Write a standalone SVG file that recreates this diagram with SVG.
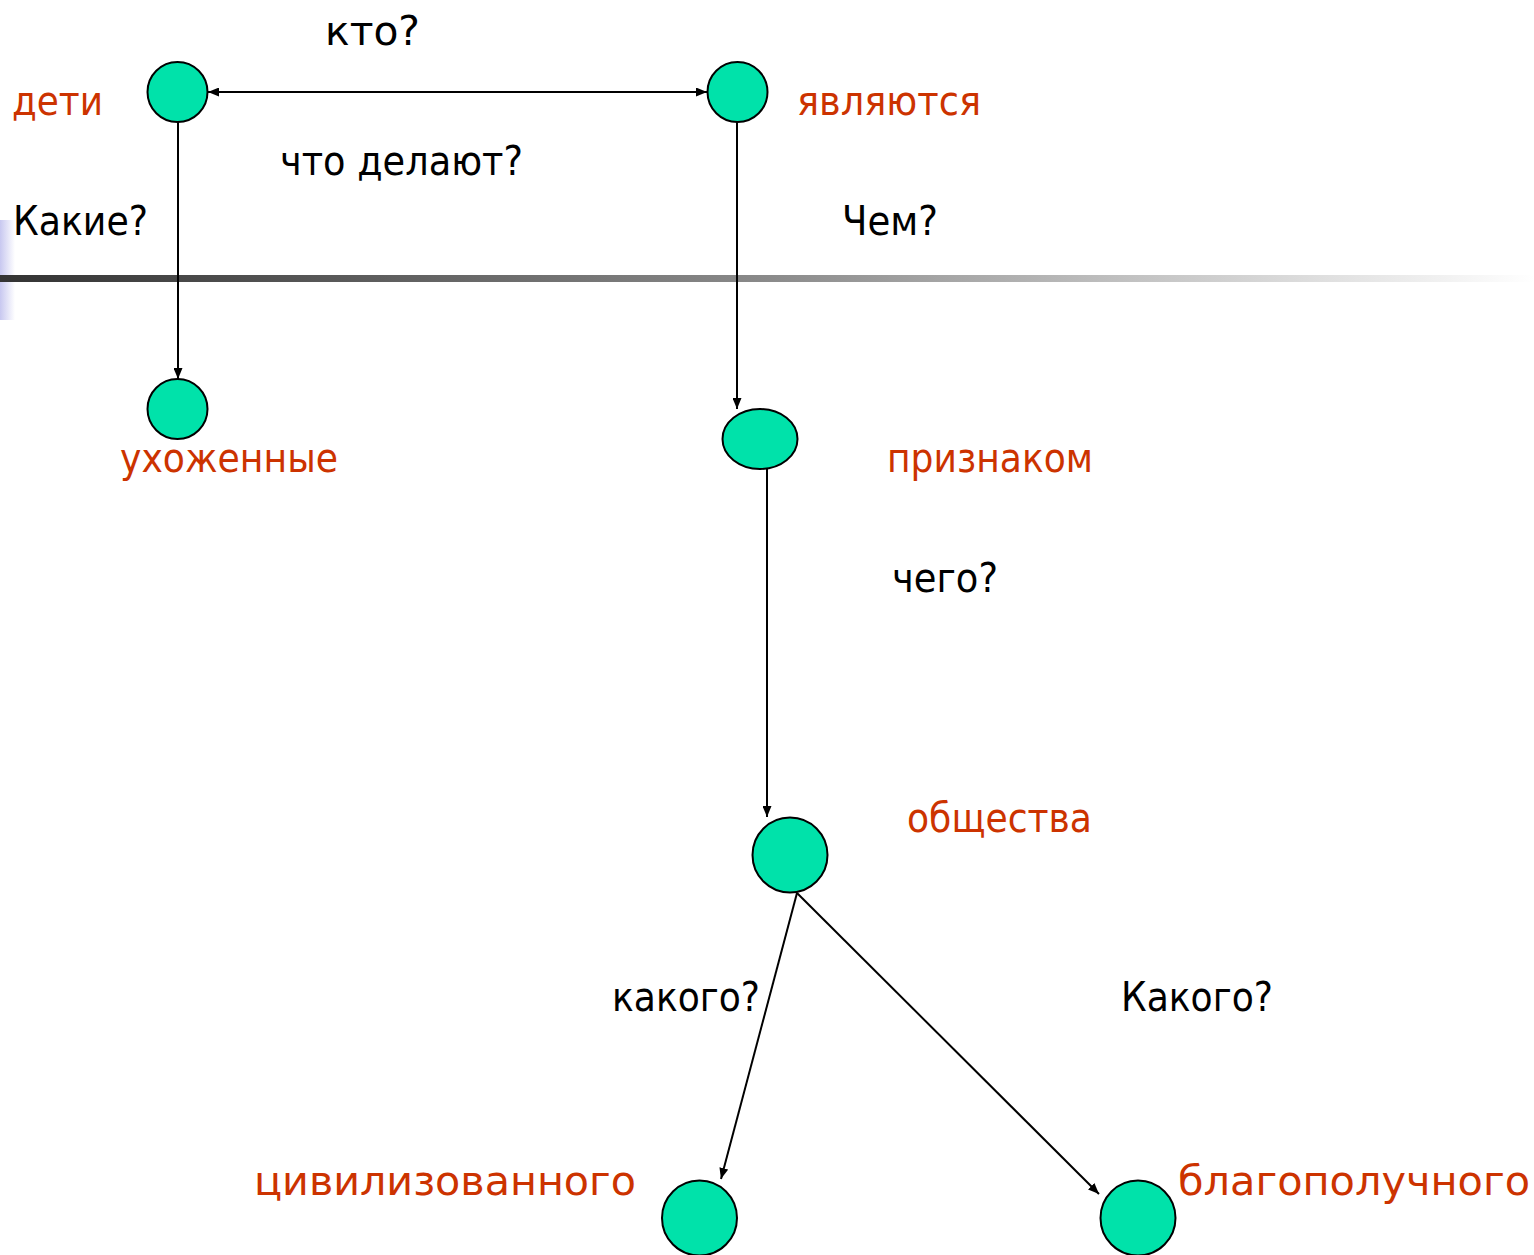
<svg xmlns="http://www.w3.org/2000/svg" width="1534" height="1255" viewBox="0 0 1534 1255">
<defs>
<linearGradient id="bar" x1="0" y1="0" x2="1" y2="0">
<stop offset="0" stop-color="#333333"/>
<stop offset="0.5" stop-color="#8a8a8a"/>
<stop offset="1" stop-color="#ffffff"/>
</linearGradient>
<linearGradient id="side" x1="0" y1="0" x2="1" y2="0">
<stop offset="0" stop-color="#c8c8f0"/>
<stop offset="1" stop-color="#ffffff"/>
</linearGradient>
<marker id="arr" viewBox="0 0 11 9" refX="11" refY="4.5" markerWidth="11" markerHeight="9" markerUnits="userSpaceOnUse" orient="auto-start-reverse">
<path d="M0,0 L11,4.5 L0,9 Z" fill="#000"/>
</marker>
</defs>
<style>
.n{fill:#00e2aa;stroke:#000;stroke-width:2}
.w{font-family:"DejaVu Sans",Verdana,sans-serif;font-size:40px;fill:#cc3300}
.q{font-family:"DejaVu Sans",Verdana,sans-serif;font-size:40px;fill:#000}
.e{stroke:#000;stroke-width:2;fill:none;marker-end:url(#arr)}
</style>
<rect x="0" y="220" width="15" height="100" fill="url(#side)"/>
<rect x="0" y="275" width="1534" height="7" fill="url(#bar)"/>
<g id="connectors">
<line class="e" x1="208" y1="92" x2="707" y2="92" marker-start="url(#arr)"/>
<line class="e" x1="178" y1="122" x2="178" y2="379"/>
<line class="e" x1="737" y1="122" x2="737" y2="409"/>
<line class="e" x1="767" y1="469" x2="767" y2="817"/>
<line class="e" x1="797" y1="893" x2="721" y2="1179"/>
<line class="e" x1="797" y1="893" x2="1099" y2="1194"/>
</g>
<g id="n-deti"><circle class="n" cx="177.5" cy="92" r="30"/><text class="w" x="12" y="115" textLength="91" lengthAdjust="spacingAndGlyphs">дети</text></g>
<g id="n-yavl"><circle class="n" cx="737.5" cy="92" r="30"/><text class="w" x="797" y="115" textLength="184" lengthAdjust="spacingAndGlyphs">являются</text></g>
<g id="n-uhozh"><circle class="n" cx="177.5" cy="409" r="30"/><text class="w" x="120" y="472" textLength="218" lengthAdjust="spacingAndGlyphs">ухоженные</text></g>
<g id="n-priznak"><ellipse class="n" cx="760" cy="439" rx="37.5" ry="30"/><text class="w" x="887" y="472" textLength="206" lengthAdjust="spacingAndGlyphs">признаком</text></g>
<g id="n-obsh"><circle class="n" cx="790" cy="855" r="37.5"/><text class="w" x="907" y="832" textLength="185" lengthAdjust="spacingAndGlyphs">общества</text></g>
<g id="n-civ"><circle class="n" cx="699.5" cy="1218" r="37.5"/><text class="w" x="254" y="1195" textLength="382" lengthAdjust="spacingAndGlyphs">цивилизованного</text></g>
<g id="n-blag"><circle class="n" cx="1138" cy="1218" r="37.5"/><text class="w" x="1178" y="1195" textLength="352" lengthAdjust="spacingAndGlyphs">благополучного</text></g>
<g id="labels">
<text class="q" x="325" y="45" textLength="95" lengthAdjust="spacingAndGlyphs">кто?</text>
<text class="q" x="280" y="175" textLength="243" lengthAdjust="spacingAndGlyphs">что делают?</text>
<text class="q" x="13" y="235" textLength="135" lengthAdjust="spacingAndGlyphs">Какие?</text>
<text class="q" x="842" y="235" textLength="96" lengthAdjust="spacingAndGlyphs">Чем?</text>
<text class="q" x="892" y="592" textLength="106" lengthAdjust="spacingAndGlyphs">чего?</text>
<text class="q" x="612" y="1011" textLength="148" lengthAdjust="spacingAndGlyphs">какого?</text>
<text class="q" x="1121" y="1011" textLength="152" lengthAdjust="spacingAndGlyphs">Какого?</text>
</g>
</svg>
